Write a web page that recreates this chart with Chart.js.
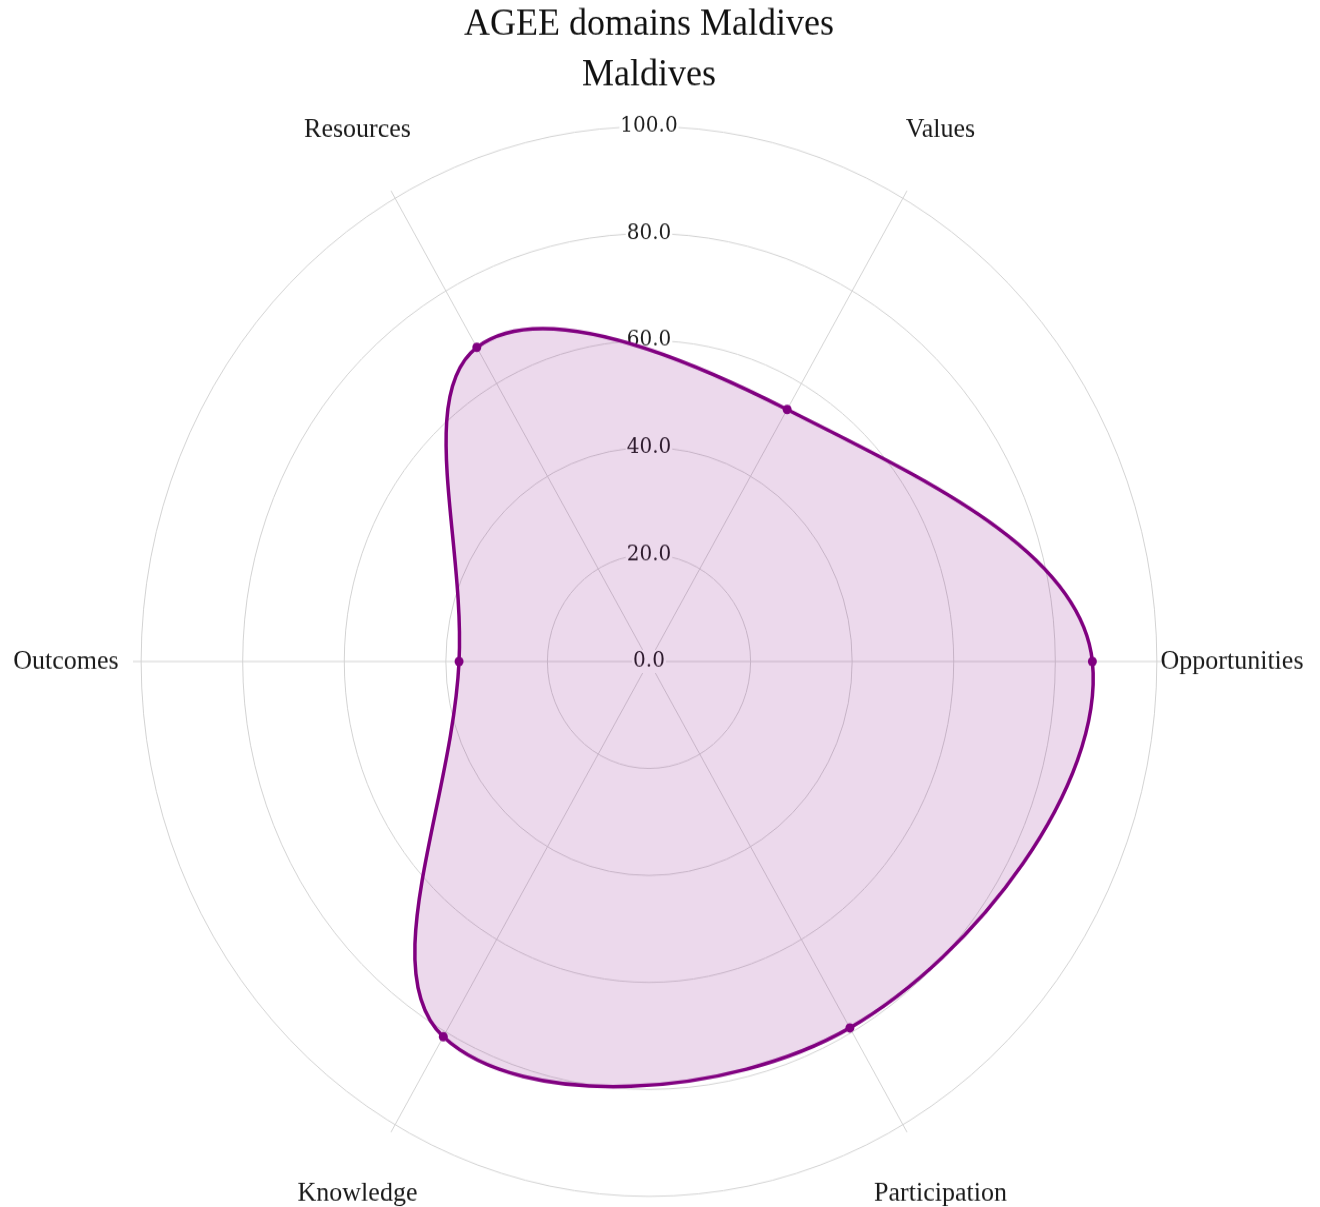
<!DOCTYPE html>
<html>
<head>
<meta charset="utf-8">
<title>AGEE domains Maldives</title>
<script src="https://cdn.jsdelivr.net/npm/chart.js@4.4.1/dist/chart.umd.min.js"></script>
<style>
  html, body { margin: 0; padding: 0; background: #fff; overflow: hidden; }
  /* the original picture is a little taller than wide, so the canvas is shown stretched;
     it runs slightly past the bottom of the window so the rings sit where they should */
  #radar { display: block; width: 1320px; height: 1226px; }
</style>
</head>
<body>
<canvas id="radar" width="1320" height="1164" style="width:1320px;height:1226px"></canvas>
<script>
// domains, clockwise starting at the right
const domains = ['Opportunities', 'Participation', 'Knowledge', 'Outcomes', 'Resources', 'Values'];
const scores = [87.3, 79.1, 81.0, 37.4, 67.8, 54.4];
const tickValues = [0, 20, 40, 60, 80, 100];

const purple = '#800080';
const gridGray = '#d3d3d3';

// tick labels stand upright above the centre, on a white backdrop under the fill
const ringLabels = {
  id: 'ringLabels',
  beforeDatasetsDraw(chart) {
    const scale = chart.scales.r;
    const ctx = chart.ctx;
    ctx.save();
    ctx.font = '20px "DejaVu Serif"';
    ctx.textAlign = 'center';
    ctx.textBaseline = 'middle';
    tickValues.forEach(v => {
      const text = v.toFixed(1);
      const y = scale.yCenter - scale.getDistanceFromCenterForValue(v);
      const w = ctx.measureText(text).width;
      ctx.fillStyle = '#fff';
      ctx.fillRect(scale.xCenter - w / 2 - 1, y - 11, w + 2, 22);
      ctx.fillStyle = '#1e1e1e';
      ctx.fillText(text, scale.xCenter, y);
    });
    ctx.restore();
  }
};

// draw the domain names a fixed distance outside the outer ring
const domainLabels = {
  id: 'domainLabels',
  afterDraw(chart) {
    const scale = chart.scales.r;
    const ctx = chart.ctx;
    ctx.save();
    ctx.font = '26px "Liberation Serif"';
    ctx.fillStyle = '#1a1a1a';
    ctx.textAlign = 'center';
    ctx.textBaseline = 'middle';
    domains.forEach((name, i) => {
      const pos = scale.getPointPosition(i, scale.drawingArea + 67);
      ctx.fillText(name, pos.x, pos.y);
    });
    ctx.restore();
  }
};

Chart.defaults.font.family = '"Liberation Serif"';

const ctx = document.getElementById('radar').getContext('2d');
new Chart(ctx, {
  type: 'radar',
  data: {
    labels: domains,
    datasets: [{
      label: 'Maldives',
      data: scores,
      borderColor: purple,
      backgroundColor: 'rgba(128, 0, 128, 0.15)',
      borderWidth: 3.5,
      pointRadius: 4.5,
      pointBorderWidth: 0,
      pointBackgroundColor: purple,
      tension: 0.38,
      fill: true
    }]
  },
  options: {
    responsive: false,
    animation: false,
    devicePixelRatio: 1,
    layout: {
      padding: { left: 133, right: 155, top: 0, bottom: 0 }
    },
    plugins: {
      legend: { display: false },
      tooltip: { enabled: false },
      title: {
        display: true,
        text: 'AGEE domains Maldives',
        color: '#111',
        font: { size: 36, weight: 'normal' },
        padding: { top: 2, bottom: 5 }
      },
      subtitle: {
        display: true,
        text: 'Maldives',
        color: '#111',
        font: { size: 36, weight: 'normal' },
        padding: { top: 0, bottom: 0 }
      }
    },
    scales: {
      r: {
        startAngle: 90,
        min: 0,
        max: 101.6,
        afterBuildTicks(scale) {
          scale.ticks = tickValues.map(v => ({ value: v }));
        },
        ticks: { display: false },
        grid: { color: gridGray, lineWidth: 1, circular: true },
        angleLines: { color: gridGray, lineWidth: 1 },
        pointLabels: { display: false }
      }
    }
  },
  plugins: [ringLabels, domainLabels]
});
</script>
</body>
</html>
